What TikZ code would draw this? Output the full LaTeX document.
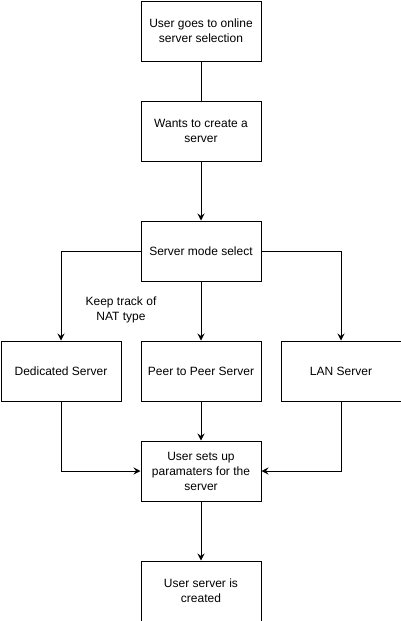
\documentclass[tikz,border=0pt]{standalone}
\usepackage{fontspec}
\setmainfont{Liberation Sans}
\usetikzlibrary{arrows.meta}
\begin{document}
\begin{tikzpicture}[x=1pt,y=-1pt,
  stepbox/.style={draw,line width=1pt,minimum width=120pt,minimum height=60pt,inner sep=0pt,align=center,font=\fontsize{12}{15}\selectfont,anchor=north west},
  link/.style={line width=1pt},
  arr/.style={line width=1pt,-{Stealth[length=7pt,width=7pt,inset=2.5pt]}},
  lbl/.style={align=center,font=\fontsize{12}{15}\selectfont,inner sep=0pt}]
\useasboundingbox (0,0) rectangle (401,621);
\node[stepbox] (a) at (140.5,0.5) {User goes to online\\server selection};
\node[stepbox] (b) at (140.5,100.5) {Wants to create a\\server};
\node[stepbox] (c) at (140.5,220.5) {Server mode select};
\node[stepbox] (d) at (0.5,340.5) {Dedicated Server};
\node[stepbox] (e) at (140.5,340.5) {Peer to Peer Server};
\node[stepbox] (f) at (280.5,340.5) {LAN Server};
\node[stepbox] (g) at (140.5,440.5) {User sets up\\paramaters for the\\server};
\node[stepbox] (h) at (140.5,560.5) {User server is\\created};
\node[lbl] (t) at (121,310) {Keep track of\\NAT type};
\draw[link] (a) -- (b);
\draw[arr] (b) -- (c);
\draw[arr] (c.west) -| (d.north);
\draw[arr] (c) -- (e);
\draw[arr] (c.east) -| (f.north);
\draw[arr] (d.south) |- (g.west);
\draw[arr] (e) -- (g);
\draw[arr] (f.south) |- (g.east);
\draw[arr] (g) -- (h);
\end{tikzpicture}
\end{document}
